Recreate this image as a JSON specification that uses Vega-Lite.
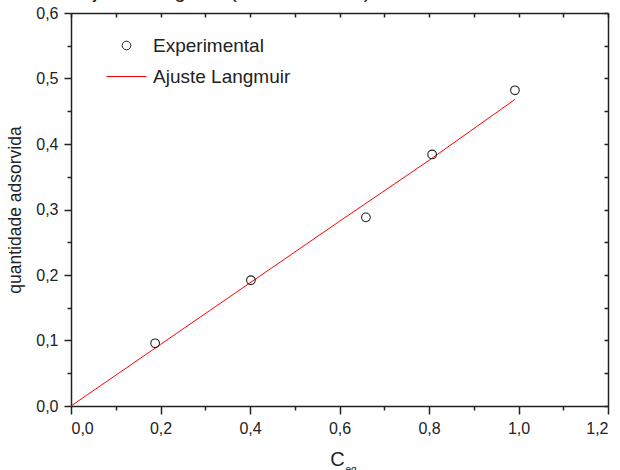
{
  "$schema": "https://vega.github.io/schema/vega-lite/v6.json",
  "width": 537,
  "height": 393,
  "autosize": "none",
  "padding": {"left": 71, "top": 13, "right": 12, "bottom": 64},
  "background": "white",
  "config": {
    "view": {"stroke": null},
    "font": "Liberation Sans",
    "axis": {"grid": false, "domainColor": "#222", "tickColor": "#222", "domainWidth": 1.5, "tickWidth": 1.5, "labelColor": "#222", "titleColor": "#222", "labelFontSize": 16, "titleFontWeight": "normal"}
  },
  "title": {"text": "Ajuste Langmuir (isoterma 25°C)", "anchor": "start", "frame": "group", "dx": 9, "dy": 6, "offset": 9, "fontSize": 20, "fontWeight": "normal", "color": "#222"},
  "datasets": {
    "exp": [
      {"C": 0.188, "q": 0.0957, "serie": "Experimental"},
      {"C": 0.402, "q": 0.192, "serie": "Experimental"},
      {"C": 0.659, "q": 0.288, "serie": "Experimental"},
      {"C": 0.807, "q": 0.384, "serie": "Experimental"},
      {"C": 0.992, "q": 0.482, "serie": "Experimental"}
    ],
    "fit": [
      {"C": 0.0, "q": 0.0, "serie": "Ajuste Langmuir"},
      {"C": 0.2, "q": 0.094, "serie": "Ajuste Langmuir"},
      {"C": 0.4, "q": 0.188, "serie": "Ajuste Langmuir"},
      {"C": 0.6, "q": 0.282, "serie": "Ajuste Langmuir"},
      {"C": 0.8, "q": 0.375, "serie": "Ajuste Langmuir"},
      {"C": 0.992, "q": 0.468, "serie": "Ajuste Langmuir"}
    ]
  },
  "layer": [
    {
      "data": {"name": "fit"},
      "mark": {"type": "line", "strokeWidth": 1, "clip": true},
      "encoding": {
        "x": {"field": "C", "type": "quantitative", "scale": {"domain": [0, 1.2], "nice": false},
          "axis": {"orient": "bottom", "values": [0, 0.2, 0.4, 0.6, 0.8, 1.0, 1.2], "format": ".1f", "labelExpr": "replace(datum.label, '.', ',')", "tickSize": 8, "labelPadding": 6, "title": "C", "titleFontSize": 20, "titlePadding": 13, "titleX": 266, "titleAlign": "center"}},
        "y": {"field": "q", "type": "quantitative", "scale": {"domain": [0, 0.6], "nice": false},
          "axis": {"orient": "left", "values": [0, 0.1, 0.2, 0.3, 0.4, 0.5, 0.6], "format": ".1f", "labelExpr": "replace(datum.label, '.', ',')", "tickSize": 7, "labelPadding": 6, "title": "quantidade adsorvida", "titleFontSize": 17.5, "titlePadding": 11}},
        "color": {"field": "serie", "type": "nominal", "scale": {"domain": ["Experimental", "Ajuste Langmuir"], "range": ["#222", "red"]},
          "legend": {"title": null, "orient": "none", "legendX": 35, "legendY": 12, "padding": 0, "labelFontSize": 19, "labelColor": "#222", "labelOffset": 6, "symbolSize": 1600, "symbolStrokeWidth": 1, "rowPadding": -17,
            "encode": {"symbols": {"update": {
              "shape": {"signal": "datum.value === 'Experimental' ? 'circle' : 'stroke'"},
              "size": {"signal": "datum.value === 'Experimental' ? 75 : 1600"},
              "fill": {"value": "transparent"},
              "stroke": {"scale": "color", "field": "value"},
              "strokeWidth": {"value": 1},
              "opacity": {"value": 1}
            }}}}}
      }
    },
    {
      "data": {"name": "exp"},
      "mark": {"type": "point", "shape": "circle", "filled": false, "size": 75, "strokeWidth": 1.1, "opacity": 1},
      "encoding": {
        "x": {"field": "C", "type": "quantitative",
          "axis": {"orient": "bottom", "values": [0.1, 0.3, 0.5, 0.7, 0.9, 1.1], "tickSize": 4, "labels": false, "domain": false, "title": "eq", "titleFontSize": 10, "titleX": 274, "titleY": 58, "titleAlign": "left", "titleBaseline": "top"}},
        "y": {"field": "q", "type": "quantitative",
          "axis": {"orient": "left", "values": [0.05, 0.15, 0.25, 0.35, 0.45, 0.55], "tickSize": 4, "labels": false, "domain": false, "title": null}},
        "color": {"field": "serie", "type": "nominal"}
      }
    },
    {
      "data": {"name": "exp"},
      "mark": {"type": "point", "opacity": 0},
      "encoding": {
        "x": {"field": "C", "type": "quantitative",
          "axis": {"orient": "top", "values": [0, 0.1, 0.2, 0.3, 0.4, 0.5, 0.6, 0.7, 0.8, 0.9, 1.0, 1.1, 1.2], "tickSize": -4, "labels": false, "title": null}},
        "y": {"field": "q", "type": "quantitative",
          "axis": {"orient": "right", "values": [0, 0.05, 0.1, 0.15, 0.2, 0.25, 0.3, 0.35, 0.4, 0.45, 0.5, 0.55, 0.6], "tickSize": -4, "labels": false, "title": null}}
      }
    }
  ],
  "resolve": {"axis": {"x": "independent", "y": "independent"}}
}
